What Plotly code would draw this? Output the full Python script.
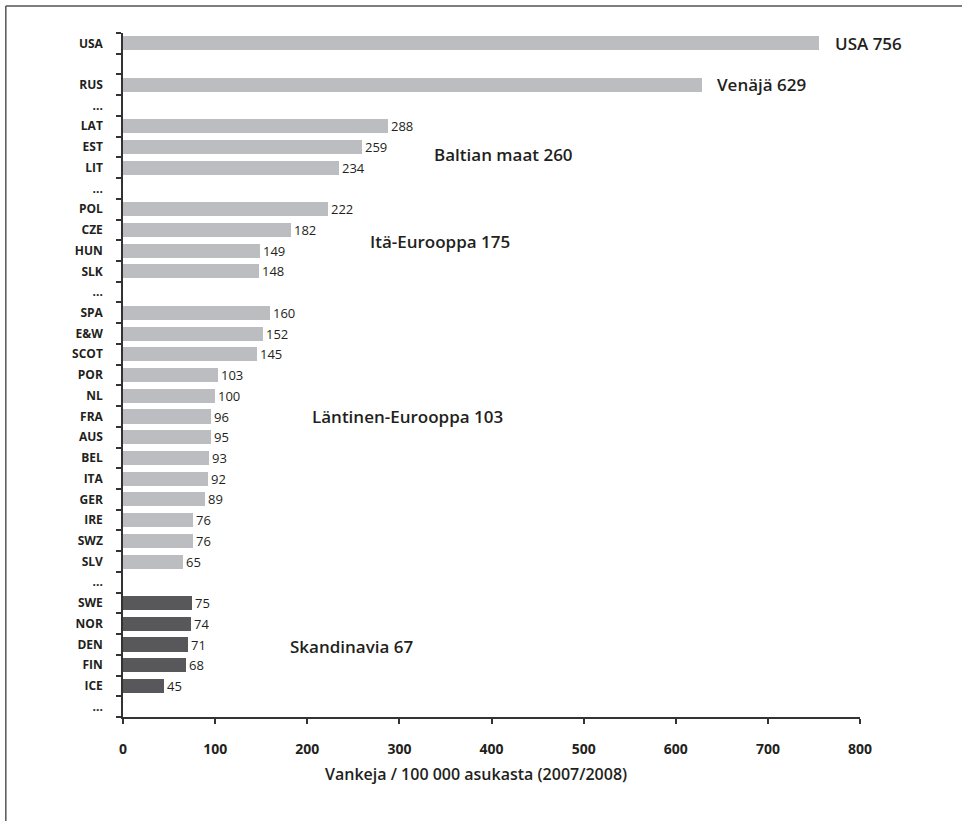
import plotly.graph_objects as go

# slots on the y axis, top to bottom ("" = empty gap, "..." = separator)
labels = ["USA", "", "RUS", "...", "LAT", "EST", "LIT", "...",
          "POL", "CZE", "HUN", "SLK", "...",
          "SPA", "E&W", "SCOT", "POR", "NL", "FRA", "AUS", "BEL", "ITA",
          "GER", "IRE", "SWZ", "SLV", "...",
          "SWE", "NOR", "DEN", "FIN", "ICE", "..."]
rates = [756, None, 629, None, 288, 259, 234, None,
         222, 182, 149, 148, None,
         160, 152, 145, 103, 100, 96, 95, 93, 92,
         89, 76, 76, 65, None,
         75, 74, 71, 68, 45, None]
nordic = ["SWE", "NOR", "DEN", "FIN", "ICE"]
big = ["USA", "RUS"]  # labelled by group annotation instead

# group labels: text, x (value axis), y (slot position)
group_text = ["USA 756", "Venäjä 629", "Baltian maat 260", "Itä-Eurooppa 175",
              "Läntinen-Eurooppa 103", "Skandinavia 67"]
group_x = [771, 643, 335, 266, 203, 179]
group_y = [0, 2, 5.35, 9.55, 18.0, 29.1]

FONT = "Open Sans"
DARK = "#231f20"

ys = [i for i, v in enumerate(rates) if v is not None]
xs = [rates[i] for i in ys]
cols = ["#58585a" if labels[i] in nordic else "#bcbdc0" for i in ys]
txt = ["" if labels[i] in big else str(rates[i]) for i in ys]

fig = go.Figure(go.Bar(
    x=xs, y=ys, orientation="h", width=0.68,
    marker=dict(color=cols, line_width=0),
    text=txt, textposition="outside", cliponaxis=False, constraintext="none",
    textfont=dict(family=FONT, size=13, color=DARK),
    hoverinfo="x+y",
))

for t, gx, gy in zip(group_text, group_x, group_y):
    fig.add_annotation(x=gx, y=gy, text=t, showarrow=False, xanchor="left",
                       yanchor="middle",
                       font=dict(family=FONT, size=17, color=DARK, weight=600))

# axis title
fig.add_annotation(xref="paper", yref="paper", x=0.479, y=-0.083,
                   text="Vankeja / 100 000 asukasta (2007/2008)", showarrow=False,
                   xanchor="center", yanchor="middle",
                   font=dict(family=FONT, size=16, color=DARK, weight=600))

# frame (top and left edges)
fig.add_shape(type="line", xref="paper", yref="paper", x0=-0.159, x1=1.2,
              y0=1.0395, y1=1.0395, line=dict(color="#555", width=1.5))
fig.add_shape(type="line", xref="paper", yref="paper", x0=-0.159, x1=-0.159,
              y0=-0.2, y1=1.0395, line=dict(color="#555", width=1.5))

fig.update_layout(
    width=962, height=821,
    margin=dict(l=123, r=102, t=33, b=104),
    plot_bgcolor="white", paper_bgcolor="white",
    showlegend=False, bargap=0,
    font=dict(family=FONT, color=DARK),
    xaxis=dict(range=[0, 800], tickvals=[0, 100, 200, 300, 400, 500, 600, 700, 800],
               ticks="outside", ticklen=5, tickcolor="#333", tickwidth=1.5,
               showline=True, linecolor="#333", linewidth=1.5,
               showgrid=False, zeroline=False, ticklabelstandoff=13,
               tickfont=dict(family=FONT, size=14, color=DARK, weight=700)),
    yaxis=dict(range=[len(labels) - 0.5, -0.5], tickvals=list(range(len(labels))),
               ticktext=labels, ticks="", showline=True, linecolor="#333",
               linewidth=1.5, showgrid=False, zeroline=False,
               ticklabelstandoff=16,
               tickfont=dict(family=FONT, size=12, color=DARK, weight=700),
               minor=dict(tickvals=[i - 0.5 for i in range(len(labels) + 1)],
                          ticks="outside", ticklen=5, tickcolor="#333",
                          tickwidth=1.5, showgrid=False)),
)

fig.write_html("out.html", config={"displayModeBar": False},
               post_script="document.body.style.margin='0';")
